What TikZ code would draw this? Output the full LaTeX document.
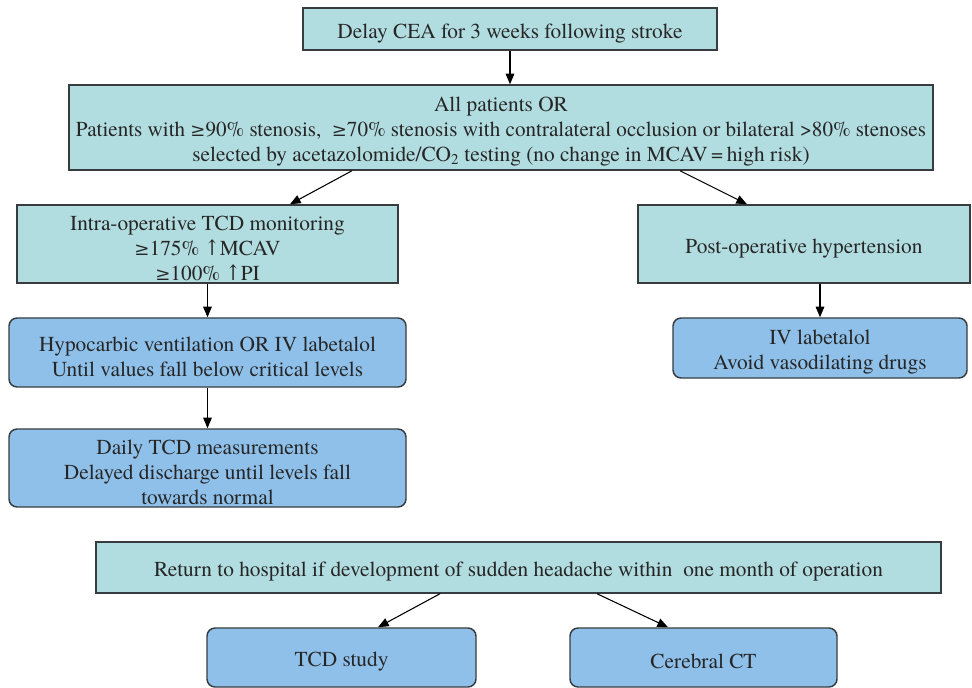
\documentclass[tikz,border=0pt]{standalone}
\usepackage{fontspec}
\setmainfont{texgyretermes}[Extension=.otf,UprightFont=*-regular,BoldFont=*-bold,ItalicFont=*-italic,BoldItalicFont=*-bolditalic]
\newfontfamily\symfont{DejaVu Serif}
\newcommand{\geqs}{{\symfont\scalebox{0.85}{≥}}}
\newcommand{\upar}{{\symfont\scalebox{0.85}[1]{↑}}}
\newcommand{\tp}{\rule{0pt}{17pt}}
\usetikzlibrary{arrows.meta,calc}
\definecolor{tealfill}{RGB}{177,220,224}
\definecolor{bluefill}{RGB}{142,192,234}
\definecolor{edgegray}{RGB}{55,60,62}
\begin{document}
\begin{tikzpicture}[x=0.75pt,y=-0.75pt,
  tbox/.style={draw=edgegray,line width=1.1pt,fill=tealfill,rectangle,align=center,inner sep=0pt,
    font=\fontsize{16}{18.75}\selectfont,text=black!85},
  bbox/.style={draw=edgegray,line width=1.1pt,fill=bluefill,rectangle,rounded corners=6pt,align=center,inner sep=0pt,
    font=\fontsize{16}{18.75}\selectfont,text=black!85},
  arr/.style={draw=black,line width=0.8pt,-{Triangle[length=8pt,width=6.5pt]}}]
\useasboundingbox (0,0) rectangle (972,688);
\fill[white] (0,0) rectangle (972,688);

\node[tbox,minimum width=310.5pt,minimum height=31.5pt] (top) at (510,29) {\tp Delay CEA for 3 weeks following stroke};
\node[tbox,minimum width=648pt,minimum height=63.75pt] (big) at (501,127.5) {\tp All patients OR\\
\scalebox{0.99}[1]{Patients with \geqs90\% stenosis,\ \ \geqs70\% stenosis with contralateral occlusion or bilateral >80\% stenoses}\\
selected by acetazolomide/CO\textsubscript{2} testing (no change in MCAV\,=\,high risk)};
\node[tbox,minimum width=285.75pt,minimum height=58.5pt] (intra) at (207.5,244) {\tp Intra-operative TCD monitoring\\ \geqs175\% \upar MCAV\\ \geqs100\% \upar PI};
\node[tbox,minimum width=249pt,minimum height=58.5pt] (post) at (804,244) {\tp Post-operative hypertension};
\node[bbox,minimum width=297.75pt,minimum height=51.75pt] (hypo) at (207.5,352.5) {\tp Hypocarbic ventilation OR IV labetalol\\ Until values fall below critical levels};
\node[bbox,minimum width=220.5pt,minimum height=45pt] (iv) at (820,348) {\tp IV labetalol\\ Avoid vasodilating drugs};
\node[bbox,minimum width=297.75pt,minimum height=58.5pt] (daily) at (207.5,468) {\tp Daily TCD measurements\\ Delayed discharge until levels fall\\ towards normal};
\node[tbox,minimum width=633.75pt,minimum height=38.25pt] (ret) at (518.5,567.5) {\tp Return to hospital if development of sudden headache within\ \ one month of operation};
\node[bbox,minimum width=201.75pt,minimum height=44.25pt] (tcd) at (341.5,657.5) {\tp TCD study};
\node[bbox,minimum width=200.25pt,minimum height=44.25pt] (ct) at (703.5,657.5) {\tp Cerebral CT};

\draw[arr] (top.south) -- (top.south |- big.north);
\draw[arr] ($(big.south)+(-149,0)$) -- ($(intra.north)+(82.5,0)$);
\draw[arr] ($(big.south)+(179,0)$) -- ($(post.north)+(-57,0)$);
\draw[arr] (intra.south) -- (hypo.north);
\draw[arr] (hypo.south) -- (daily.north);
\draw[arr] (post.south -| iv.north) -- (iv.north);
\draw[arr] ($(ret.south)+(-78.5,0)$) -- ($(tcd.north)+(36.5,0)$);
\draw[arr] ($(ret.south)+(78.5,0)$) -- ($(ct.north)+(-35.5,0)$);
\end{tikzpicture}
\end{document}
